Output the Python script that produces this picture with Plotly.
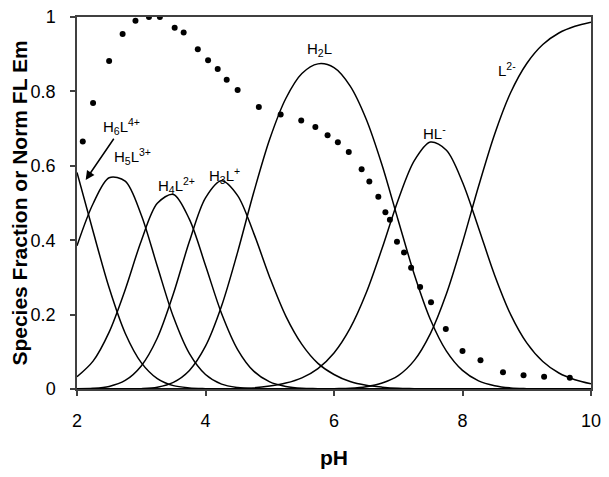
"""
plot.py — species distribution vs pH with normalised fluorescence emission.
"""
import plotly.graph_objects as go

# ─────────────────────────────────────────────────────────────────────────────
# DATA
# ─────────────────────────────────────────────────────────────────────────────

ph_grid = [2.00, 2.25, 2.50, 2.75, 3.00, 3.25, 3.50, 3.75, 4.00, 4.25, 4.50,
           4.75, 5.00, 5.25, 5.50, 5.75, 6.00, 6.25, 6.50, 6.75, 7.00, 7.25,
           7.50, 7.75, 8.00, 8.25, 8.50, 8.75, 9.00, 9.25, 9.50, 9.75, 10.00]

h6l = [0.582, 0.424, 0.272, 0.150, 0.071, 0.028, 0.009, 0.003, 0.001, 0.000,
       0.000, 0.000, 0.000, 0.000, 0.000, 0.000, 0.000, 0.000, 0.000, 0.000,
       0.000, 0.000, 0.000, 0.000, 0.000, 0.000, 0.000, 0.000, 0.000, 0.000,
       0.000, 0.000, 0.000]
h5l = [0.385, 0.498, 0.568, 0.559, 0.468, 0.330, 0.194, 0.095, 0.039, 0.013,
       0.004, 0.001, 0.000, 0.000, 0.000, 0.000, 0.000, 0.000, 0.000, 0.000,
       0.000, 0.000, 0.000, 0.000, 0.000, 0.000, 0.000, 0.000, 0.000, 0.000,
       0.000, 0.000, 0.000]
h4l = [0.033, 0.075, 0.153, 0.267, 0.398, 0.499, 0.523, 0.456, 0.332, 0.203,
       0.106, 0.048, 0.019, 0.007, 0.002, 0.001, 0.000, 0.000, 0.000, 0.000,
       0.000, 0.000, 0.000, 0.000, 0.000, 0.000, 0.000, 0.000, 0.000, 0.000,
       0.000, 0.000, 0.000]
h3l = [0.001, 0.002, 0.007, 0.023, 0.062, 0.137, 0.256, 0.397, 0.514, 0.560,
       0.520, 0.419, 0.300, 0.196, 0.120, 0.069, 0.039, 0.020, 0.010, 0.005,
       0.002, 0.001, 0.000, 0.000, 0.000, 0.000, 0.000, 0.000, 0.000, 0.000,
       0.000, 0.000, 0.000]
h2l = [0.000, 0.000, 0.000, 0.000, 0.001, 0.005, 0.018, 0.050, 0.115, 0.223,
       0.368, 0.528, 0.672, 0.781, 0.848, 0.874, 0.864, 0.815, 0.726, 0.601,
       0.453, 0.308, 0.187, 0.102, 0.050, 0.022, 0.009, 0.003, 0.001, 0.000,
       0.000, 0.000, 0.000]
hl = [0.000, 0.000, 0.000, 0.000, 0.000, 0.000, 0.000, 0.000, 0.000, 0.000,
      0.001, 0.003, 0.008, 0.016, 0.030, 0.055, 0.097, 0.163, 0.258, 0.379,
      0.509, 0.614, 0.664, 0.642, 0.556, 0.433, 0.306, 0.200, 0.124, 0.074,
      0.043, 0.025, 0.014]
l2 = [0.000, 0.000, 0.000, 0.000, 0.000, 0.000, 0.000, 0.000, 0.000, 0.000,
      0.000, 0.000, 0.000, 0.000, 0.000, 0.000, 0.001, 0.002, 0.006, 0.016,
      0.036, 0.077, 0.149, 0.256, 0.394, 0.545, 0.685, 0.797, 0.875, 0.926,
      0.957, 0.975, 0.986]

# normalised fluorescence emission (dots)
fl_ph = [2.09, 2.25, 2.50, 2.71, 2.91, 3.12, 3.29, 3.52, 3.66, 3.88, 4.04,
         4.19, 4.33, 4.50, 4.83, 5.17, 5.49, 5.71, 5.90, 6.06, 6.23, 6.43,
         6.55, 6.69, 6.80, 6.87, 6.98, 7.09, 7.20, 7.34, 7.51, 7.74, 8.00,
         8.28, 8.63, 8.95, 9.27, 9.67]
fl_em = [0.665, 0.769, 0.882, 0.954, 0.990, 1.000, 1.000, 0.971, 0.958, 0.913,
         0.884, 0.860, 0.831, 0.804, 0.758, 0.738, 0.722, 0.704, 0.682, 0.663,
         0.637, 0.591, 0.558, 0.517, 0.475, 0.455, 0.396, 0.367, 0.326, 0.274,
         0.233, 0.161, 0.102, 0.077, 0.045, 0.037, 0.033, 0.030]

species = [h6l, h5l, h4l, h3l, h2l, hl, l2]

# species labels: (text, pH, fraction); the first one carries the arrow
label_text = ["H<sub>6</sub>L<sup>4+</sup>", "H<sub>5</sub>L<sup>3+</sup>",
              "H<sub>4</sub>L<sup>2+</sup>", "H<sub>3</sub>L<sup>+</sup>",
              "H<sub>2</sub>L", "HL<sup>-</sup>", "L<sup>2-</sup>"]
label_ph = [2.70, 2.86, 3.55, 4.29, 5.78, 7.57, 8.69]
label_y = [0.705, 0.625, 0.548, 0.575, 0.913, 0.690, 0.860]
arrow_tip = (2.135, 0.562)

FONT = "Liberation Sans, Arial, sans-serif"
AXIS_C = "#404040"
PAGE_PAD = 8  # default <body> margin of the html page

# ─────────────────────────────────────────────────────────────────────────────
# FIGURE
# ─────────────────────────────────────────────────────────────────────────────

fig = go.Figure()

for ys in species:
    fig.add_trace(go.Scatter(
        x=ph_grid, y=ys, mode="lines",
        line=dict(color="black", width=1.5, shape="spline", smoothing=0.9),
        showlegend=False, hoverinfo="skip",
    ))

fig.add_trace(go.Scatter(
    x=fl_ph, y=fl_em, mode="markers",
    marker=dict(color="black", size=6),
    showlegend=False,
))

for i, (txt, px, py) in enumerate(zip(label_text, label_ph, label_y)):
    if i == 0:
        fig.add_annotation(x=arrow_tip[0], y=arrow_tip[1], ax=px, ay=py,
                           axref="x", ayref="y", text=txt, showarrow=True,
                           arrowhead=2, arrowsize=1.2, arrowwidth=1.5,
                           arrowcolor="black",
                           font=dict(family=FONT, size=15, color="black"))
    else:
        fig.add_annotation(x=px, y=py, text=txt, showarrow=False,
                           font=dict(family=FONT, size=15, color="black"))

fig.update_layout(
    width=609 - PAGE_PAD, height=477 - PAGE_PAD,
    margin=dict(l=77 - PAGE_PAD, r=18, t=17 - PAGE_PAD, b=88),
    paper_bgcolor="white", plot_bgcolor="white",
    font=dict(family=FONT, size=18, color="black"),
    showlegend=False,
    xaxis=dict(
        range=[2, 10], dtick=2, tick0=2, automargin=False,
        ticks="outside", ticklen=5, tickcolor=AXIS_C, tickwidth=1.5,
        showline=True, linecolor=AXIS_C, linewidth=1.5, mirror=True,
        showgrid=False, zeroline=False,
        ticklabelstandoff=10, ticklabeloverflow="allow",
        title=dict(text="<b>pH</b>", font=dict(size=21), standoff=20),
    ),
    yaxis=dict(
        range=[0, 1], dtick=0.2, automargin=False,
        ticks="outside", ticklen=5, tickcolor=AXIS_C, tickwidth=1.5,
        showline=True, linecolor=AXIS_C, linewidth=1.5, mirror=True,
        showgrid=False, zeroline=False,
        ticklabelstandoff=11, ticklabeloverflow="allow",
        title=dict(text="<b>Species Fraction or Norm FL Em</b>",
                   font=dict(size=21), standoff=4),
    ),
)

fig.write_html("out.html")
